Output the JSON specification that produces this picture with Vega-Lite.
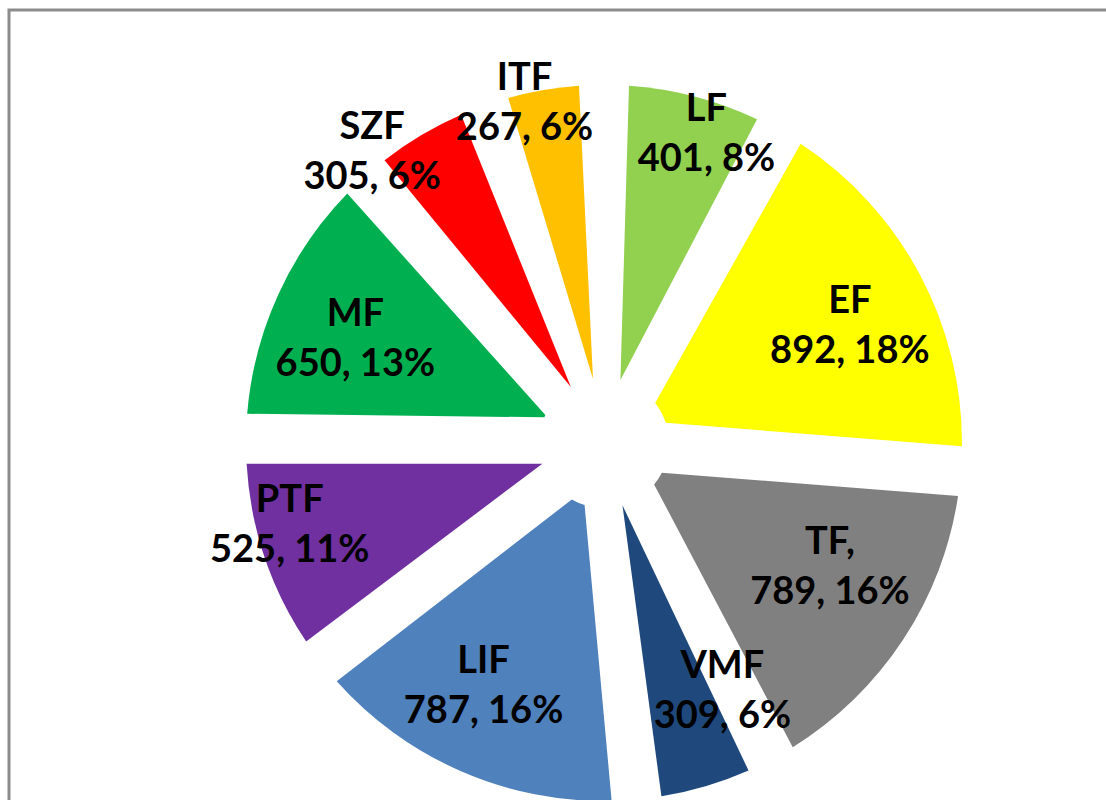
{
  "$schema": "https://vega.github.io/schema/vega-lite/v6.json",
  "width": 1190,
  "height": 866,
  "autosize": {"type": "none"},
  "padding": {"left": 9, "top": 10, "right": -93, "bottom": -76},
  "background": "white",
  "view": {"stroke": "#8c8c8c", "strokeWidth": 3, "fill": "white"},
  "config": {"font": "Lato",
    "text": {"fontSize": 38, "fontWeight": "bold", "lineBreak": "\n", "lineHeight": 50, "align": "center", "baseline": "middle", "color": "black", "dy": -25}},
  "data": {
    "values": [
      {"i": 1, "name": "LF", "value": 401, "label": "LF\n401, 8%"},
      {"i": 2, "name": "EF", "value": 892, "label": "EF\n892, 18%"},
      {"i": 3, "name": "TF", "value": 789, "label": "TF,\n789, 16%"},
      {"i": 4, "name": "VMF", "value": 309, "label": "VMF\n309, 6%"},
      {"i": 5, "name": "LIF", "value": 787, "label": "LIF\n787, 16%"},
      {"i": 6, "name": "PTF", "value": 525, "label": "PTF\n525, 11%"},
      {"i": 7, "name": "MF", "value": 650, "label": "MF\n650, 13%"},
      {"i": 8, "name": "SZF", "value": 305, "label": "SZF\n305, 6%"},
      {"i": 9, "name": "ITF", "value": 267, "label": "ITF\n267, 6%"}
    ]
  },
  "encoding": {
    "theta": {"field": "value", "type": "quantitative", "stack": true},
    "order": {"field": "i", "type": "quantitative"}
  },
  "layer": [
    {
      "mark": {"type": "arc", "radius": 358, "radius2": 65, "padAngle": 0.1375},
      "encoding": {
        "color": {
          "field": "name",
          "type": "nominal",
          "scale": {
            "domain": ["LF", "EF", "TF", "VMF", "LIF", "PTF", "MF", "SZF", "ITF"],
            "range": ["#92D050", "#FFFF00", "#808080", "#1F497D", "#4F81BD", "#7030A0", "#00B050", "#FF0000", "#FFC000"]
          },
          "legend": null
        }
      }
    },
    {
      "mark": {"type": "text", "radius": 272, "thetaOffset": 0.048},
      "encoding": {
        "text": {"condition": {"test": {"field": "name", "oneOf": ["EF", "LIF"]}, "field": "label", "type": "nominal"}, "value": ""}
      }
    },
    {
      "mark": {"type": "text", "radius": 269, "thetaOffset": -0.035},
      "encoding": {
        "text": {"condition": {"test": {"field": "name", "oneOf": ["MF"]}, "field": "label", "type": "nominal"}, "value": ""}
      }
    },
    {
      "mark": {"type": "text", "radius": 258, "thetaOffset": -0.078},
      "encoding": {
        "text": {"condition": {"test": {"field": "name", "oneOf": ["TF"]}, "field": "label", "type": "nominal"}, "value": ""}
      }
    },
    {
      "mark": {"type": "text", "radius": 276, "thetaOffset": -0.155},
      "encoding": {
        "text": {"condition": {"test": {"field": "name", "oneOf": ["VMF"]}, "field": "label", "type": "nominal"}, "value": ""}
      }
    },
    {
      "mark": {"type": "text", "radius": 325, "thetaOffset": 0.065},
      "encoding": {
        "text": {"condition": {"test": {"field": "name", "oneOf": ["LF", "PTF"]}, "field": "label", "type": "nominal"}, "value": ""}
      }
    },
    {
      "mark": {"type": "text", "radius": 348, "thetaOffset": -0.06},
      "encoding": {
        "text": {"condition": {"test": {"field": "name", "oneOf": ["ITF"]}, "field": "label", "type": "nominal"}, "value": ""}
      }
    },
    {
      "mark": {"type": "text", "radius": 371, "thetaOffset": -0.14},
      "encoding": {
        "text": {"condition": {"test": {"field": "name", "oneOf": ["SZF"]}, "field": "label", "type": "nominal"}, "value": ""}
      }
    }
  ]
}
